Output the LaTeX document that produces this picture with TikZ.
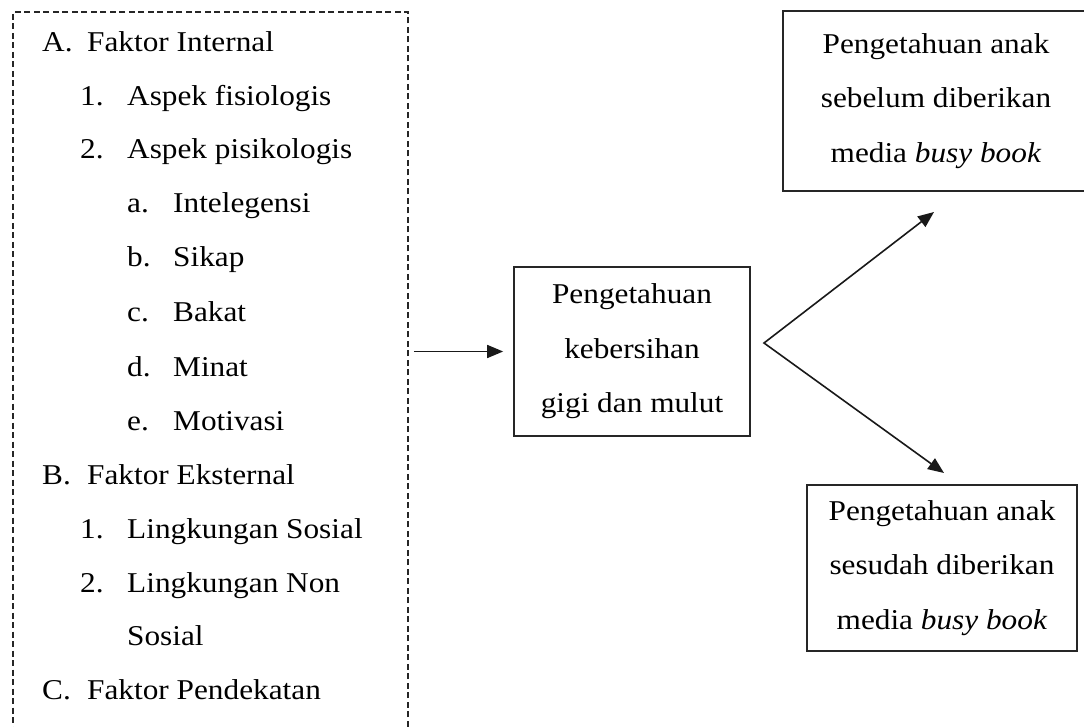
\documentclass[tikz,border=0pt]{standalone}
\usepackage{fontspec}
\setmainfont[FakeStretch=1.09]{Liberation Serif}
\usetikzlibrary{arrows.meta}
\begin{document}
\begin{tikzpicture}[x=1pt,y=-1pt,
  every node/.style={font=\fontsize{28.7}{54.5}\selectfont, text=black},
  lbl/.style={anchor=base west, inner sep=0pt},
  solidbox/.style={draw=black!85, line width=1.7pt, align=center, inner sep=0pt},
  dashbox/.style={draw=black!85, line width=1.7pt, dash pattern=on 6pt off 3.5pt, inner sep=0pt},
  arr/.style={draw=black!90, line width=1.6pt},
  >={Triangle[length=16pt,width=13pt]}]
\clip (0,0) rectangle (1084,727);
\fill[white] (0,0) rectangle (1084,727);

% factor list box
\node[dashbox, minimum width=395pt, minimum height=728pt] (factors) at (210.5,376) {};

\node[lbl] (la) at (42,52) {A.};   \node[lbl] (ta) at (87,52) {Faktor Internal};
\node[lbl] (l1) at (80,106) {1.};  \node[lbl] (t1) at (127,106) {Aspek fisiologis};
\node[lbl] (l2) at (80,159) {2.};  \node[lbl] (t2) at (127,159) {Aspek pisikologis};
\node[lbl] (lsa) at (127,213) {a.}; \node[lbl] (tsa) at (173,213) {Intelegensi};
\node[lbl] (lsb) at (127,267) {b.}; \node[lbl] (tsb) at (173,267) {Sikap};
\node[lbl] (lsc) at (127,321) {c.}; \node[lbl] (tsc) at (173,321) {Bakat};
\node[lbl] (lsd) at (127,376) {d.}; \node[lbl] (tsd) at (173,376) {Minat};
\node[lbl] (lse) at (127,430) {e.}; \node[lbl] (tse) at (173,430) {Motivasi};
\node[lbl] (lb) at (42,484) {B.};  \node[lbl] (tb) at (87,484) {Faktor Eksternal};
\node[lbl] (lb1) at (80,538) {1.}; \node[lbl] (tb1) at (127,538) {Lingkungan Sosial};
\node[lbl] (lb2) at (80,592) {2.}; \node[lbl] (tb2) at (127,592) {Lingkungan Non};
\node[lbl] (tb2b) at (127,645) {Sosial};
\node[lbl] (lc) at (42,699) {C.};  \node[lbl] (tc) at (87,699) {Faktor Pendekatan};

% boxes
\node[solidbox, minimum width=236pt, minimum height=169pt] (mid) at (632,351.5)
  {Pengetahuan\\kebersihan\\gigi dan mulut};
\node[solidbox, minimum width=306pt, minimum height=180pt] (before) at (936,101)
  {Pengetahuan anak\\sebelum diberikan\\media \textit{busy book}};
\node[solidbox, minimum width=270pt, minimum height=166pt] (after) at (942,568)
  {Pengetahuan anak\\sesudah diberikan\\media \textit{busy book}};

% connectors
\draw[arr, ->, shorten <=5pt, shorten >=10pt]
  (factors.east |- mid.west) -- (mid.west);

\coordinate (v) at (764,343);
\coordinate (tipA) at (934,212);
\coordinate (tipB) at (944,473);
\draw[arr, <->] (tipA) -- (v) -- (tipB);
\end{tikzpicture}
\end{document}
